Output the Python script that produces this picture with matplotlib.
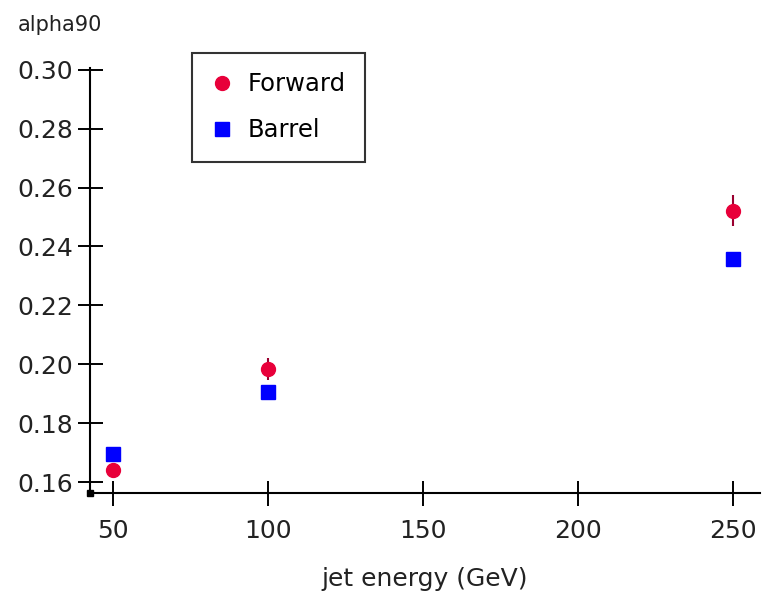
import matplotlib
matplotlib.use("Agg")
import matplotlib.pyplot as plt

# jet energies (GeV)
energy = [50, 100, 250]

# alpha90 values
forward = [0.1641, 0.1983, 0.2522]
forward_err = [0.0015, 0.0037, 0.0052]
barrel = [0.1695, 0.1905, 0.2356]
barrel_err = [0.0005, 0.0005, 0.0008]

xticks = [50, 100, 150, 200, 250]
yticks = [0.16, 0.18, 0.20, 0.22, 0.24, 0.26, 0.28, 0.30]

red = '#e8003a'
blue = '#0000ff'

plt.rcParams['font.family'] = 'DejaVu Sans'
fig = plt.figure(figsize=(7.64, 5.92), dpi=100)
ax = fig.add_axes([90 / 764, 1 - 493 / 592, 670 / 764, 425 / 592])

ax.errorbar(energy, forward, yerr=forward_err, fmt='o', color=red, ms=10,
            ecolor='#9a0030', elinewidth=1.5, capsize=0, label='Forward', zorder=3)
ax.errorbar(energy, barrel, yerr=barrel_err, fmt='s', color=blue, ms=10,
            ecolor='#000060', elinewidth=1.5, capsize=0, label='Barrel', zorder=3)

ax.set_xlim(42.6, 258.7)
ax.set_ylim(0.1563, 0.3006)
ax.set_xticks(xticks)
ax.set_yticks(yticks)
ax.set_yticklabels([f'{v:.2f}' for v in yticks])

for s in ['top', 'right']:
    ax.spines[s].set_visible(False)
for s in ['left', 'bottom']:
    ax.spines[s].set_linewidth(1.5)
ax.tick_params(direction='inout', length=18, width=1.4, labelsize=18,
               colors='black', labelcolor='#222222')
ax.tick_params(axis='y', pad=3)
ax.tick_params(axis='x', pad=10)
ax.plot([0], [0], 's', color='black', ms=5, transform=ax.transAxes, clip_on=False)

ax.set_xlabel('jet energy (GeV)', fontsize=18, color='#222222', labelpad=17)
fig.text(18 / 764, 1 - 25 / 592, 'alpha90', fontsize=15, color='#222222',
         ha='left', va='center')

h, l = ax.get_legend_handles_labels()
h = [x[0] for x in h]
leg = fig.legend(h, l, loc='upper left', bbox_to_anchor=(192 / 764, 1 - 53 / 592),
                 borderaxespad=0, fontsize=17.5, frameon=True, fancybox=False,
                 edgecolor='black', handlelength=0.9, handletextpad=0.6,
                 borderpad=0.8, labelspacing=0.9)
leg.get_frame().set_linewidth(1.5)

fig.savefig('out.png', dpi=100)
